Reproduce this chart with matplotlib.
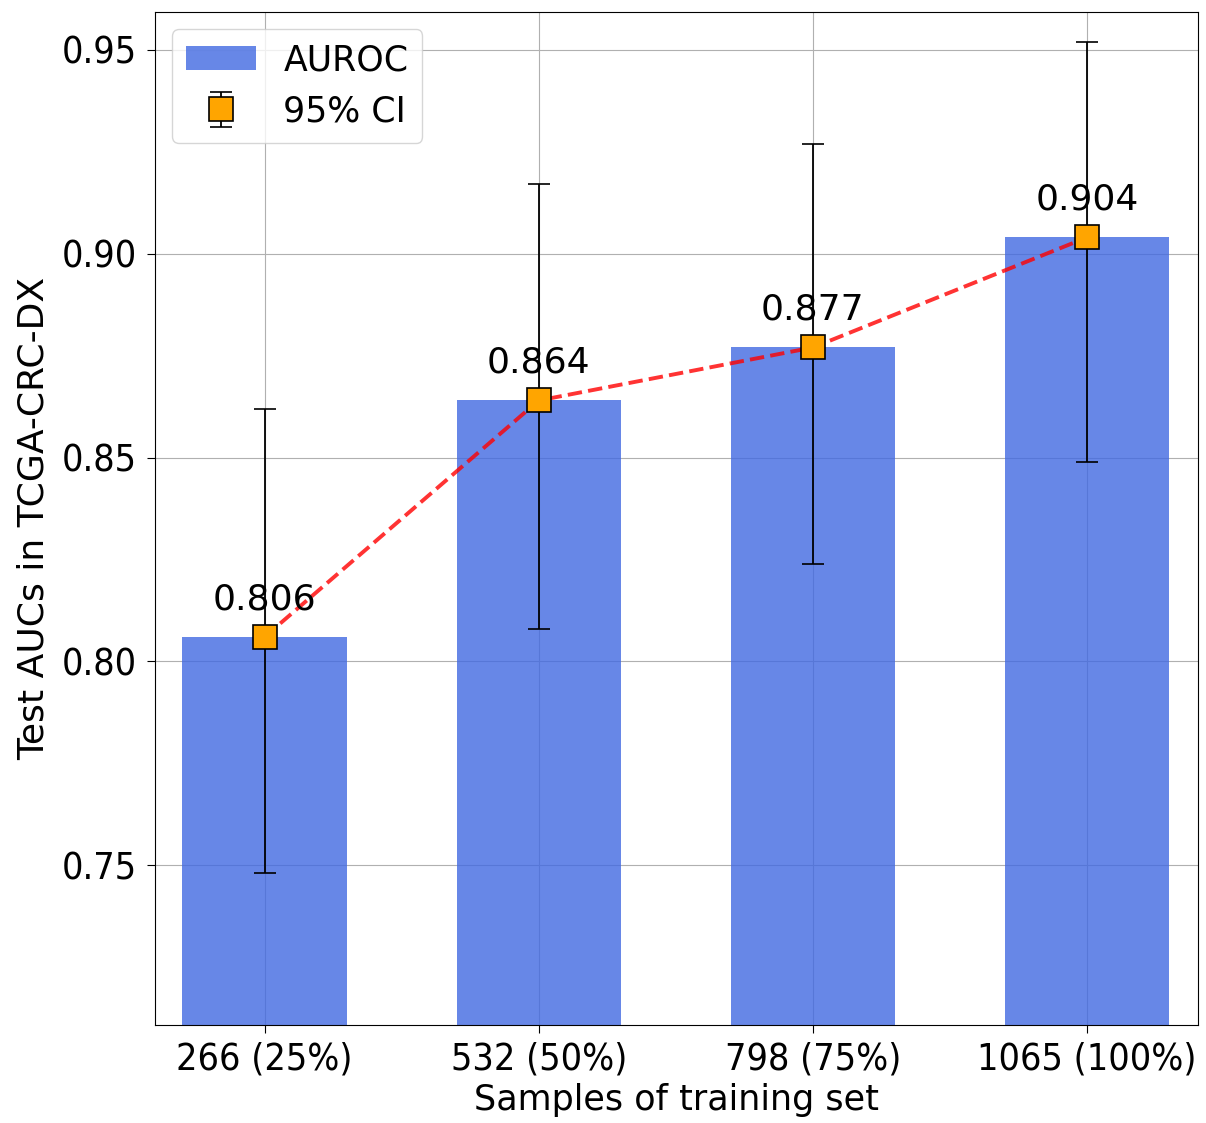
import matplotlib
matplotlib.use("Agg")
import matplotlib.pyplot as plt
import numpy as np

plt.rcParams['font.family'] = ['DejaVu Sans']

categories = ["266 (25%)", "532 (50%)", "798 (75%)", "1065 (100%)"]
auroc = [0.806, 0.864, 0.877, 0.904]
ci_low = [0.748, 0.808, 0.824, 0.849]
ci_high = [0.862, 0.917, 0.927, 0.952]

fig = plt.figure(figsize=(12.06, 11.23), dpi=100)
ax = fig.add_axes([0.1285, 0.0873, 0.8649, 0.902])

x = np.arange(len(categories))
ax.bar(x, auroc, width=0.6, color="royalblue", alpha=0.8, label="AUROC", zorder=2)
ax.plot(x, auroc, linestyle="--", color="red", alpha=0.8, linewidth=2.8, zorder=3)
yerr = [np.array(auroc) - np.array(ci_low), np.array(ci_high) - np.array(auroc)]
ax.errorbar(x, auroc, yerr=yerr, fmt="s", color="orange", markersize=17,
            markeredgecolor="black", markeredgewidth=1.2, ecolor="black",
            elinewidth=1.3, capsize=8, capthick=1.3, label="95% CI", zorder=4)
for xi, v in zip(x, auroc):
    ax.annotate(f"{v:.3f}", (xi, v), xytext=(0, 20), textcoords="offset points",
                ha="center", va="baseline", fontsize=26, zorder=5)

ax.set_xticks(x)
ax.set_xticklabels(categories)
ax.set_yticks([0.75, 0.80, 0.85, 0.90, 0.95])
ax.tick_params(axis="y", length=6, pad=7)
ax.tick_params(axis="x", length=6, pad=6)
for lab in ax.get_xticklabels() + ax.get_yticklabels():
    lab.set_fontsize(27)
    lab.set_fontstretch('condensed')
ax.set_ylim(0.7108, 0.9593)
ax.set_xlim(-0.4, 3.405)
ax.set_xlabel("Samples of training set", fontsize=25.2, labelpad=4)
ax.set_ylabel("Test AUCs in TCGA-CRC-DX", fontsize=26, labelpad=8)
ax.grid(True, zorder=0)
ax.set_axisbelow(True)
ax.legend(loc="upper left", fontsize=25)

fig.savefig("out.png", dpi=100)
